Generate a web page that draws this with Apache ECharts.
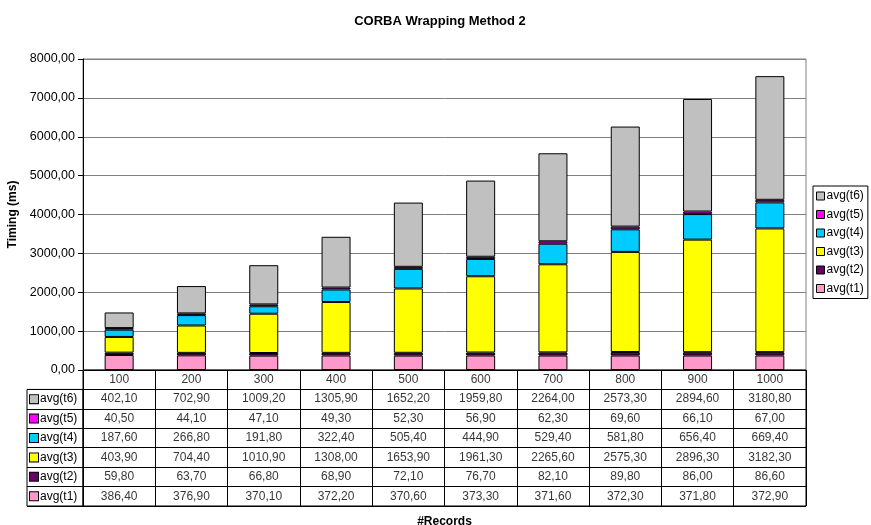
<!DOCTYPE html>
<html><head><meta charset="utf-8">
<script src="https://cdn.jsdelivr.net/npm/echarts@6/dist/echarts.min.js"></script>
<style>html,body{margin:0;padding:0;background:#fff}#c{width:871px;height:525px}</style>
</head><body><div id="c"></div>
<script>
var categories = ['100','200','300','400','500','600','700','800','900','1000'];
var t1 = [386.4,376.9,370.1,372.2,370.6,373.3,371.6,372.3,371.8,372.9];
var t2 = [59.8,63.7,66.8,68.9,72.1,76.7,82.1,89.8,86.0,86.6];
var t3 = [403.9,704.4,1010.9,1308.0,1653.9,1961.3,2265.6,2575.3,2896.3,3182.3];
var t4 = [187.6,266.8,191.8,322.4,505.4,444.9,529.4,581.8,656.4,669.4];
var t5 = [40.5,44.1,47.1,49.3,52.3,56.9,62.3,69.6,66.1,67.0];
var t6 = [402.1,702.9,1009.2,1305.9,1652.2,1959.8,2264.0,2573.3,2894.6,3180.8];
var seriesNames = ['avg(t1)','avg(t2)','avg(t3)','avg(t4)','avg(t5)','avg(t6)'];
var seriesData = [t1,t2,t3,t4,t5,t6];
var colors = ['#FF99CC','#660066','#FFFF00','#00CCFF','#FF00FF','#C0C0C0'];
var yTicks = [0,1000,2000,3000,4000,5000,6000,7000,8000];

var FONT = 'Liberation Sans, Arial, sans-serif';
function fmt(v){ return v.toFixed(2).replace('.', ','); }

var series = [];
seriesNames.forEach(function(n,i){
  series.push({
    name:n, type:'bar', stack:'total', xAxisIndex:0, yAxisIndex:0,
    barWidth:29, data:seriesData[i],
    itemStyle:{color:colors[i], borderColor:'#000', borderWidth:1},
    emphasis:{disabled:true}
  });
});
var tableRows = seriesNames.concat(['hdr']);
var cells = [];
categories.forEach(function(c,ci){
  cells.push({value:[c,'hdr'], txt:c});
  seriesNames.forEach(function(n,si){
    cells.push({value:[c,n], txt:fmt(seriesData[si][ci])});
  });
});
series.push({
  type:'scatter', xAxisIndex:1, yAxisIndex:1, symbolSize:0, silent:true,
  data:cells,
  label:{show:true, position:'inside', color:'#000', fontFamily:FONT, fontSize:12,
    formatter:function(p){return p.data.txt;}}
});

var rich = {};
seriesNames.forEach(function(n,i){
  rich['s'+i] = {width:8, height:8, backgroundColor:colors[i], borderColor:'#000', borderWidth:1};
});
rich.n = {fontFamily:FONT, fontSize:12, color:'#000', padding:[0,0,0,2]};

var option = {
  animation:false,
  backgroundColor:'#fff',
  title:{text:'CORBA Wrapping Method 2', left:435, top:10, textAlign:'center',
    textStyle:{fontFamily:FONT, fontSize:13, fontWeight:'bold', color:'#000'}},
  legend:{
    data:seriesNames.slice().reverse(), orient:'vertical', left:813, top:186,
    itemWidth:8, itemHeight:8, itemGap:6.5, padding:[4,4,4,3],
    borderColor:'#000', borderWidth:1, icon:'rect',
    textStyle:{fontFamily:FONT, fontSize:12, color:'#000', padding:[0,0,0,-3]},
    itemStyle:{borderColor:'#000', borderWidth:1}
  },
  grid:[
    {left:83, top:59, width:723, height:311, show:true, borderColor:'#808080', borderWidth:1, outerBoundsMode:'none', containLabel:false},
    {left:83, top:370, width:723, height:136, show:true, borderColor:'#000', borderWidth:1, outerBoundsMode:'none', containLabel:false},
    {left:27, top:389.43, width:56, height:116.57, show:true, borderColor:'#000', borderWidth:1, outerBoundsMode:'none', containLabel:false}
  ],
  xAxis:[
    {type:'category', gridIndex:0, data:categories, axisLabel:{show:false}, axisTick:{show:false},
      axisLine:{lineStyle:{color:'#000'}}, splitLine:{show:false}},
    {type:'category', gridIndex:1, data:categories, axisLabel:{show:false}, axisTick:{show:false},
      axisLine:{show:false}, splitLine:{show:true, interval:0, lineStyle:{color:'#000'}},
      name:'#Records', nameLocation:'middle', nameGap:10,
      nameTextStyle:{fontFamily:FONT, fontSize:12, fontWeight:'bold', color:'#000'}},
    {type:'category', gridIndex:2, data:[''], axisLabel:{show:false}, axisTick:{show:false},
      axisLine:{show:false}, splitLine:{show:false}}
  ],
  yAxis:[
    {type:'value', gridIndex:0, min:yTicks[0], max:yTicks[yTicks.length-1], interval:1000,
      axisLine:{show:true, lineStyle:{color:'#000'}}, axisTick:{show:true, length:5, lineStyle:{color:'#000'}},
      splitLine:{show:true, lineStyle:{color:'#808080'}},
      axisLabel:{formatter:function(v){return fmt(v);}, fontFamily:FONT, fontSize:12.5, color:'#000', margin:8},
      name:'Timing (ms)', nameLocation:'middle', nameGap:60,
      nameTextStyle:{fontFamily:FONT, fontSize:12, fontWeight:'bold', color:'#000'}},
    {type:'category', gridIndex:1, data:tableRows, axisLabel:{show:false}, axisTick:{show:false},
      axisLine:{show:false}, splitLine:{show:true, interval:0, lineStyle:{color:'#000'}}},
    {type:'category', gridIndex:2, data:seriesNames, axisTick:{show:false}, axisLine:{show:false},
      splitLine:{show:true, interval:0, lineStyle:{color:'#000'}},
      axisLabel:{show:true, inside:true, interval:0, margin:3, rich:rich,
        formatter:function(v){var i=seriesNames.indexOf(v); return '{s'+i+'|}{n|'+v+'}';}}}
  ],
  series:series
};
var chart = echarts.init(document.getElementById('c'), null, {renderer:'canvas'});
chart.setOption(option);
</script></body></html>
